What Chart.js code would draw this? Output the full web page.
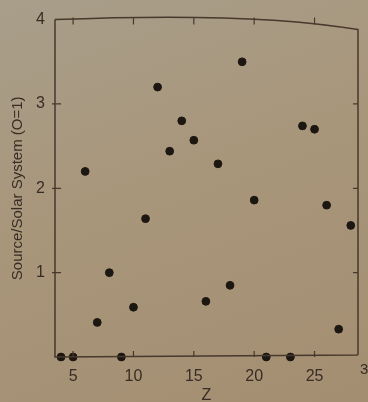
<!DOCTYPE html>
<html lang="en">
<head>
<meta charset="utf-8">
<script src="https://cdn.jsdelivr.net/npm/chart.js@4"></script>
<title>Source/Solar System abundances</title>
<style>
html, body {
  margin: 0;
  padding: 0;
}
body {
  width: 368px;
  height: 402px;
  overflow: hidden;
  background: linear-gradient(160deg, #a89e8a 0%, #a8967b 45%, #a48e71 100%);
}
#wrap {
  position: relative;
  width: 368px;
  height: 402px;
}
</style>
</head>
<body>
<div id="wrap">
  <canvas id="myChart"></canvas>
</div>
<script>
// atomic number Z and source / solar system ratio (O = 1)
const zValues = [4, 5, 6, 7, 8, 9, 10, 11, 12, 13, 14, 15, 16, 17, 18, 19, 20, 21, 23, 24, 25, 26, 27, 28];
const ratios  = [0, 0, 2.2, 0.41, 1.0, 0, 0.59, 1.64, 3.2, 2.44, 2.8, 2.57, 0.66, 2.29, 0.85, 3.5, 1.86, 0, 0, 2.74, 2.7, 1.8, 0.33, 1.56];
const xTicks = [5, 10, 15, 20, 25];
const yTicks = [1, 2, 3, 4];

const ink = '#382d24';
const fontFamily = '"Liberation Sans", Arial, sans-serif';

// frame round the plot, with short inward ticks on all four sides
const framePlugin = {
  id: 'frame',
  afterDraw(chart) {
    const {ctx, chartArea: a, scales} = chart;
    ctx.save();
    ctx.strokeStyle = '#47392d';
    ctx.lineWidth = 1.5;
    ctx.beginPath();
    ctx.moveTo(a.left, a.top);
    ctx.quadraticCurveTo(a.left + 0.65 * (a.right - a.left), a.top - 8, a.right, a.top + 10);
    ctx.lineTo(a.right, a.bottom - 2);
    ctx.moveTo(a.left, a.top);
    ctx.lineTo(a.left, a.bottom);
    ctx.lineTo(a.right, a.bottom - 2);
    ctx.stroke();

    ctx.lineWidth = 1.2;
    ctx.beginPath();
    for (const v of xTicks) {
      const x = scales.x.getPixelForValue(v);
      ctx.moveTo(x, a.bottom);
      ctx.lineTo(x, a.bottom - 6);
      ctx.moveTo(x, a.top - 2);
      ctx.lineTo(x, a.top + 5);
    }
    for (const v of [1, 2, 3]) {
      const y = scales.y.getPixelForValue(v);
      ctx.moveTo(a.left - 3, y);
      ctx.lineTo(a.left + 6, y);
      ctx.moveTo(a.right, y);
      ctx.lineTo(a.right - 5, y);
    }
    ctx.stroke();

    // the "30" label that sits cut off at the right edge of the page
    ctx.fillStyle = ink;
    ctx.font = '15px ' + fontFamily;
    ctx.textAlign = 'left';
    ctx.textBaseline = 'top';
    ctx.fillText('30', a.right + 2, a.bottom + 5);
    ctx.restore();
  }
};

const ctx = document.getElementById('myChart');
new Chart(ctx, {
  type: 'scatter',
  data: {
    datasets: [{
      data: zValues.map((z, i) => ({x: z, y: ratios[i]})),
      backgroundColor: '#1d1712',
      borderColor: '#1d1712',
      pointRadius: 3.9,
      pointHoverRadius: 3.9,
      clip: false
    }]
  },
  options: {
    responsive: true,
    maintainAspectRatio: false,
    animation: false,
    events: [],
    layout: {
      padding: {top: 14, right: 10, bottom: 0, left: 0}
    },
    plugins: {
      legend: {display: false},
      tooltip: {enabled: false}
    },
    scales: {
      x: {
        type: 'linear',
        min: 3.5,
        max: 28.6,
        afterBuildTicks: (s) => { s.ticks = xTicks.map(v => ({value: v})); },
        afterFit: (s) => { s.height = 45; },
        grid: {display: false, drawTicks: false},
        border: {display: false},
        ticks: {
          color: ink,
          padding: 10,
          maxRotation: 0,
          font: {family: fontFamily, size: 16}
        },
        title: {
          display: true,
          text: 'Z',
          color: ink,
          padding: {top: 0, bottom: -3},
          font: {family: fontFamily, size: 16}
        }
      },
      y: {
        type: 'linear',
        min: 0,
        max: 4,
        afterBuildTicks: (s) => { s.ticks = yTicks.map(v => ({value: v})); },
        afterFit: (s) => { s.width = 55; },
        grid: {display: false, drawTicks: false},
        border: {display: false},
        ticks: {
          color: ink,
          padding: 10,
          font: {family: fontFamily, size: 16}
        },
        title: {
          display: true,
          text: 'Source/Solar System (O=1)',
          color: ink,
          padding: {top: 9, bottom: 0},
          font: {family: fontFamily, size: 15}
        }
      }
    }
  },
  plugins: [framePlugin]
});
</script>
</body>
</html>
